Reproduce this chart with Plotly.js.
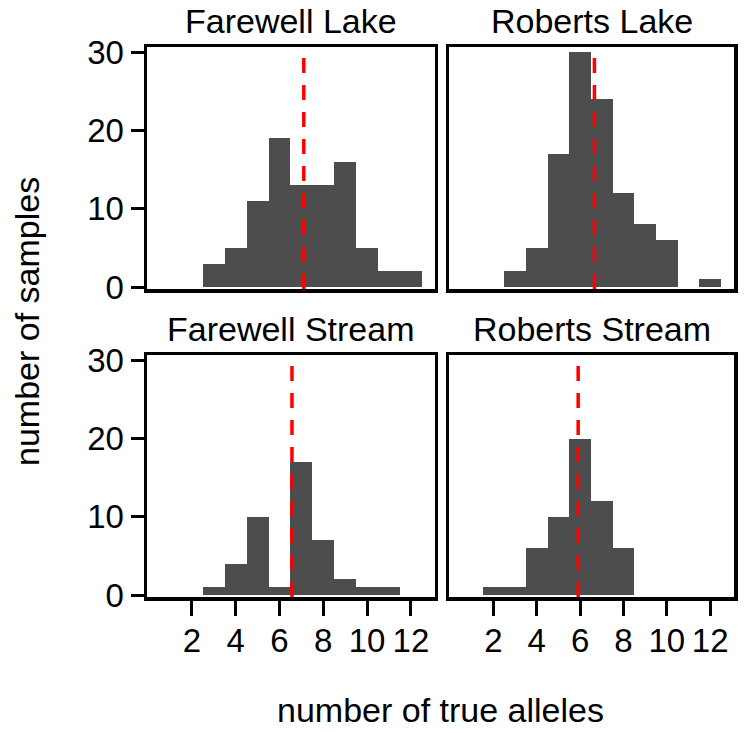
<!DOCTYPE html>
<html>
<head>
<meta charset="utf-8">
<script src="https://cdn.plot.ly/plotly-3.0.1.min.js"></script>
<style>
  html, body { margin: 0; padding: 0; background: #fff; }
  #chart { width: 745px; height: 732px; }
</style>
</head>
<body>
<div id="chart"></div>
<script>
// number of true alleles per sample, faceted by site
var panels = ['Farewell Lake', 'Roberts Lake', 'Farewell Stream', 'Roberts Stream'];

var fwLakeX = [3, 4, 5, 6, 7, 8, 9, 10, 11, 12];
var fwLakeN = [3, 5, 11, 19, 13, 13, 16, 5, 2, 2];

var rbLakeX = [3, 4, 5, 6, 7, 8, 9, 10, 12];
var rbLakeN = [2, 5, 17, 30, 24, 12, 8, 6, 1];

var fwStreamX = [3, 4, 5, 6, 7, 8, 9, 10, 11];
var fwStreamN = [1, 4, 10, 1, 17, 7, 2, 1, 1];

var rbStreamX = [2, 3, 4, 5, 6, 7, 8];
var rbStreamN = [1, 1, 6, 10, 20, 12, 6];

// mean number of alleles (dashed line)
var means = [7.11, 6.66, 6.57, 5.91];

var xTicks = [2, 4, 6, 8, 10, 12];
var yTicks = [0, 10, 20, 30];

var barColor = '#4d4d4d';
var fnt = 'Liberation Sans, Arial, sans-serif';

var xs = [fwLakeX, rbLakeX, fwStreamX, rbStreamX];
var ns = [fwLakeN, rbLakeN, fwStreamN, rbStreamN];

var data = [];
for (var i = 0; i < 4; i++) {
  data.push({
    type: 'bar',
    x: xs[i],
    y: ns[i],
    width: 1,
    xaxis: i === 0 ? 'x' : 'x' + (i + 1),
    yaxis: i === 0 ? 'y' : 'y' + (i + 1),
    marker: { color: barColor, line: { width: 0 } },
    showlegend: false,
    hoverinfo: 'x+y'
  });
}

var xDom = [[0, 0.4906], [0.5145, 1], [0, 0.4906], [0.5145, 1]];
var yDom = [[0.56, 1], [0.56, 1], [0, 0.44], [0, 0.44]];

var layout = {
  width: 745,
  height: 732,
  margin: { l: 147, r: 11, t: 47, b: 135 },
  paper_bgcolor: '#fff',
  plot_bgcolor: '#fff',
  font: { family: fnt, size: 34, color: '#000' },
  bargap: 0,
  showlegend: false,
  shapes: [],
  annotations: []
};

for (var j = 0; j < 4; j++) {
  var sfx = j === 0 ? '' : String(j + 1);
  var bottom = j >= 2;
  var left = j % 2 === 0;
  layout['xaxis' + sfx] = {
    domain: xDom[j],
    anchor: 'y' + sfx,
    range: [-0.05, 13.1],
    tickvals: xTicks,
    ticks: bottom ? 'outside' : '',
    ticklen: 15,
    tickwidth: 3,
    tickcolor: '#000',
    showticklabels: bottom,
    ticklabelstandoff: -3,
    tickfont: { size: 33 },
    showgrid: false,
    zeroline: false,
    showline: true,
    mirror: true,
    linewidth: 3.5,
    linecolor: '#000',
    fixedrange: true
  };
  layout['yaxis' + sfx] = {
    domain: yDom[j],
    anchor: 'x' + sfx,
    range: [-0.25, 30.7],
    tickvals: yTicks,
    ticks: left ? 'outside' : '',
    ticklen: 13,
    tickwidth: 3,
    tickcolor: '#000',
    showticklabels: left,
    tickfont: { size: 33 },
    showgrid: false,
    zeroline: false,
    showline: true,
    mirror: true,
    linewidth: 3.5,
    linecolor: '#000',
    fixedrange: true
  };
  layout.shapes.push({
    type: 'line',
    xref: 'x' + sfx,
    yref: 'y' + sfx + ' domain',
    x0: means[j], x1: means[j],
    y0: 0, y1: 1,
    line: { color: '#ff0000', width: 3.5, dash: '15px,12px' }
  });
  layout.annotations.push({
    text: panels[j],
    xref: 'x' + sfx + ' domain',
    yref: 'y' + sfx + ' domain',
    x: 0.5, y: 1,
    xanchor: 'center', yanchor: 'bottom',
    yshift: 5,
    showarrow: false,
    font: { size: 34, color: '#000' }
  });
}

// shared axis titles
layout.annotations.push({
  text: 'number of true alleles',
  xref: 'paper', yref: 'paper',
  x: 0.5, y: 0,
  xanchor: 'center', yanchor: 'middle',
  yshift: -113,
  showarrow: false,
  font: { size: 34, color: '#000' }
});
layout.annotations.push({
  text: 'number of samples',
  xref: 'paper', yref: 'paper',
  x: 0, y: 0.5,
  xanchor: 'center', yanchor: 'middle',
  xshift: -120,
  textangle: -90,
  showarrow: false,
  font: { size: 34, color: '#000' }
});

Plotly.newPlot('chart', data, layout, { displayModeBar: false, staticPlot: true });
</script>
</body>
</html>
